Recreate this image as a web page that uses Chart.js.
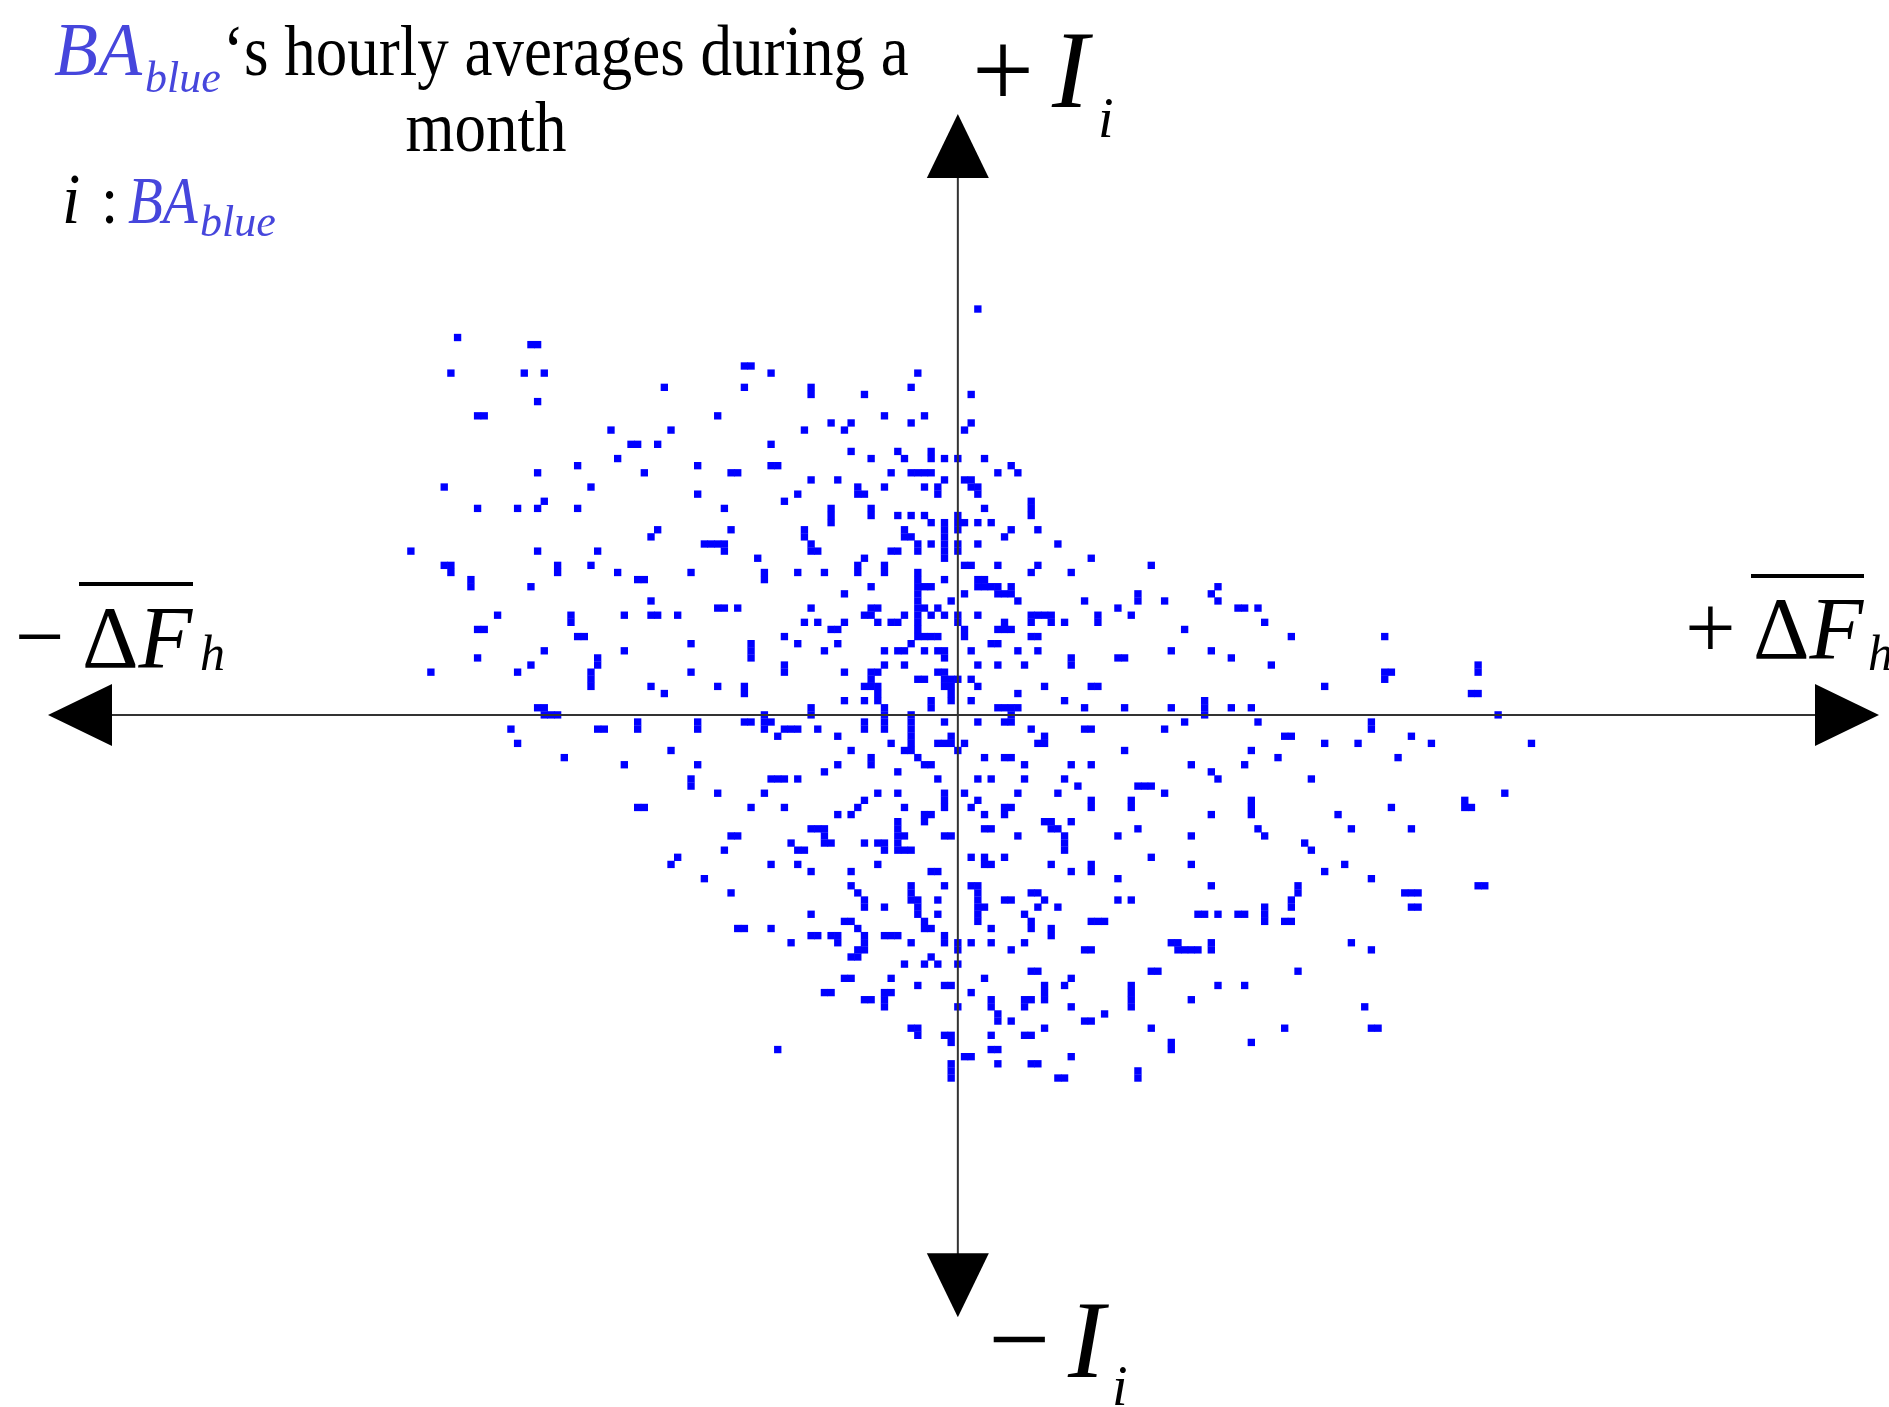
<!DOCTYPE html>
<html>
<head>
<meta charset="utf-8">
<script src="https://cdn.jsdelivr.net/npm/chart.js@4"></script>
<style>
  html, body { margin: 0; padding: 0; background: #ffffff; overflow: hidden; }
  #wrap { width: 1889px; height: 1407px; position: relative; }
</style>
</head>
<body>
<div id="wrap"><canvas id="c" width="1889" height="1407"></canvas></div>
<script>
// Hourly averages, in grid cells of (ΔF_h, I_i) relative to the origin.
const upperLeftCells = [
  [-75,53],[-64,52],[-63,52],[-76,48],[-65,48],[-62,48],[-32,49],[-31,49],[-28,48],
  [-44,46],[-32,46],[-63,44],[-72,42],[-71,42],[-36,42],[-52,40],[-43,40],
  [-49,38],[-48,38],[-45,38],[-28,38],[-51,36],[-57,35],[-63,34],[-47,34],[-39,35],[-34,34],[-33,34],[-28,35],[-27,35],
  [-77,32],[-55,32],[-39,31],[-62,30],[-72,29],[-66,29],[-63,29],[-57,29],[-35,29],
  [-45,26],[-46,25],[-34,26],[-82,23],[-63,23],[-54,23],[-38,24],[-37,24],[-36,24],[-35,24],[-35,23],[-30,22],
  [-77,21],[-76,21],[-76,20],[-60,21],[-60,20],[-55,21],[-51,20],[-48,19],[-47,19],[-40,20],[-29,20],[-29,19],
  [-73,19],[-73,18],[-64,18],[-46,16],
  [-69,14],[-58,14],[-58,13],[-50,14],[-46,14],[-45,14],[-42,14],[-36,15],[-35,15],[-33,15],
  [-72,12],[-71,12],[-57,11],[-56,11],[-62,9],[-50,9],[-40,10],[-31,10],[-31,9],[-31,8],
  [-72,8],[-79,6],[-66,6],[-64,7],[-54,8],[-54,7],[-55,6],[-55,5],[-55,4],[-40,6],
  [-46,4],[-44,3],[-36,4],[-32,4],[-32,3]
];
const upperMidCells = [
  [3,57],[-6,48],[-22,46],[-22,45],[-14,45],[-7,46],[2,45],
  [-11,42],[-5,42],[-19,41],[-16,41],[-23,40],[-17,40],[-7,41],[2,41],[1,40],
  [-16,37],[-13,36],[-9,37],[-8,36],[-4,37],[-4,36],[-2,36],[0,36],[4,36],
  [8,35],[9,34],[6,34],[-10,34],[-7,34],[-6,34],[-5,34],[-4,34],
  [-22,33],[-18,33],[-2,33],[1,33],[2,33],[2,32],[3,32],[3,31],
  [-24,31],[-26,30],[-15,32],[-15,31],[-14,31],[-11,32],[-5,32],[-3,32],[-3,31],
  [-19,29],[-19,28],[-19,27],[-13,29],[-13,28],[-9,28],[-7,28],[-5,28],[-4,27],
  [-2,27],[-2,26],[-2,25],[-2,24],[-2,23],[-2,22],
  [0,28],[0,27],[0,26],[1,27],[3,27],[5,27],[4,29],[11,30],[11,29],[11,28],
  [-23,26],[-23,25],[-8,26],[-8,25],[-7,25],[8,26],[7,25],[12,26],
  [-22,24],[-22,23],[-21,23],[-10,23],[-9,23],[-6,24],[-6,23],[-4,24],[0,24],[0,23],[3,24],[15,24],
  [-14,22],[-15,21],[-15,20],[-11,21],[-11,20],[-24,20],[-20,20],[1,21],[2,21],[6,21],[12,21],[11,20],[17,20],[20,22],[29,21],
  [-6,20],[-6,19],[-6,18],[-6,17],[-6,16],[-6,15],[-6,14],[-6,13],[-6,12],[-6,11],[-5,18],[-4,18],[-5,15],[-5,11],[-4,11],[-3,11],
  [-2,19],[-13,18],[-17,17],[1,17],
  [3,19],[4,19],[3,18],[4,18],[5,18],[6,18],[8,18],[6,17],[7,17],[8,17],[9,16],
  [-1,16],[-22,15],[-13,15],[-12,15],[-14,14],[-13,14],[-12,13],
  [-8,14],[-4,14],[-3,15],[-2,14],[0,14],[0,13],[3,14],
  [11,14],[12,14],[13,14],[14,14],[11,13],[14,13],[16,13],[21,14],[21,13],[19,16],[24,15],[26,14],[27,17],[27,16],
  [-23,13],[-21,13],[-17,13],[-19,12],[-18,12],[-10,13],[-9,13],
  [1,12],[1,11],[7,13],[6,12],[7,12],[8,12],[11,11],[12,11],[-26,11],
  [-24,10],[-18,10],[-20,9],[-11,9],[-9,9],[-8,9],[-7,10],[-5,9],[-3,9],[-2,9],[-2,8],[2,9],[5,10],[6,10],[9,9],[12,9],
  [-26,7],[-26,6],[-17,6],[-11,7],[-8,7],
  [-13,6],[-12,6],[-13,5],[-14,4],[-13,4],[-12,4],[-12,3],[-12,2],
  [-3,6],[-2,6],[-2,5],[-1,5],[0,5],[-2,4],[-1,4],[-1,3],[-1,2],[-6,5],[-5,5],
  [2,5],[3,4],[3,7],[6,7],[10,7],[17,8],[17,7],[24,8],[25,8],[13,4],[20,4],[21,4],[9,3],
  [-17,2],[-14,2],[-4,2],[2,2],[16,2]
];
const upperRightCells = [
  [39,18],[38,17],[39,16],[31,16],[42,15],[43,15],[45,15],[46,13],[34,12],[50,11],[64,11],
  [32,9],[38,9],[41,8],[47,7],[55,4],[64,6],[65,6],[64,5],[78,7],[78,6],[77,3],[78,3],[37,2]
];
const lowerLeftCells = [
  [-63,1],[-62,1],[-62,0],[-61,0],[-60,0],
  [-67,-2],[-66,-4],[-54,-2],[-53,-2],[-48,-1],[-48,-2],[-39,-1],[-39,-2],[-32,-1],[-31,-1],
  [-29,0],[-29,-1],[-29,-2],[-28,-1],[-27,-3],
  [-43,-5],[-59,-6],[-50,-7],[-39,-7],[-40,-9],[-40,-10],[-36,-11],[-29,-11],[-28,-9],[-27,-9],
  [-48,-13],[-47,-13],[-31,-13],[-34,-17],[-33,-17],[-35,-19],[-42,-20],[-43,-21],[-28,-21],
  [-38,-23],[-34,-25],[-33,-30],[-32,-30],[-28,-30],[-27,-47]
];
const lowerMidCells = [
  [-22,1],[-22,0],[-11,1],[-11,0],[-11,-1],[-11,-2],[-4,1],
  [6,1],[7,1],[8,1],[9,1],[8,0],[7,-1],[8,-1],[19,1],[25,1],
  [-26,-2],[-25,-2],[-24,-2],[-21,-2],[-14,-1],[-14,-2],
  [-7,0],[-7,-1],[-7,-2],[-7,-3],[-7,-4],[-7,-5],[-8,-5],
  [-2,-1],[3,-1],[-18,-3],[-10,-4],[-3,-4],[-2,-4],[-1,-4],[-1,-3],[0,-5],[1,-4],
  [11,-2],[13,-3],[12,-4],[13,-4],[19,-2],[20,-2],
  [-16,-5],[-13,-6],[-13,-7],[-18,-7],[-6,-6],[-5,-7],[-4,-7],[4,-6],[7,-6],[8,-6],[25,-5],[10,-7],[17,-7],[20,-7],
  [-26,-9],[-24,-9],[-20,-8],[-9,-8],[-3,-9],[3,-9],[5,-9],[10,-9],[16,-9],[18,-10],[27,-10],[28,-10],[29,-10],
  [-12,-11],[-9,-11],[-2,-11],[-2,-12],[-2,-13],[1,-11],[9,-11],[15,-11],
  [-14,-12],[-15,-13],[-26,-13],[-8,-13],[2,-13],[3,-12],[7,-13],[8,-13],[7,-14],[20,-12],[20,-13],[26,-12],[26,-13],
  [-18,-14],[-16,-14],[-5,-14],[-4,-14],[-5,-15],[4,-14],[17,-15],
  [13,-15],[14,-15],[14,-16],[15,-16],[16,-17],[16,-18],[16,-19],[27,-16],[4,-16],[5,-16],
  [-22,-16],[-21,-16],[-20,-16],[-20,-17],[-20,-18],[-19,-18],[-25,-18],[-24,-19],[-23,-19],[-24,-21],
  [-14,-18],[-12,-18],[-11,-18],[-11,-19],
  [-9,-15],[-9,-16],[-9,-17],[-9,-18],[-9,-19],[-8,-17],[-8,-19],[-7,-19],
  [-2,-17],[-1,-17],[9,-17],[24,-17],
  [2,-20],[4,-20],[4,-21],[5,-21],[7,-20],[29,-20],[14,-21],[20,-21],[20,-22],[17,-22],
  [-22,-22],[-16,-22],[-12,-21],[-4,-22],[-3,-22],[24,-23],
  [-16,-24],[-15,-25],[-14,-26],[-14,-27],[-22,-28],[-11,-27],
  [-7,-24],[-7,-25],[-7,-26],[-6,-26],[-6,-27],[-6,-28],[-2,-24],[-3,-26],[-3,-28],
  [-5,-29],[-5,-30],[-4,-30],
  [2,-24],[3,-24],[3,-25],[3,-26],[3,-27],[4,-27],[3,-28],[3,-29],
  [7,-26],[8,-26],[11,-25],[12,-25],[13,-26],[12,-27],[15,-27],[24,-26],[26,-26],[10,-28],[11,-29],[11,-30],[5,-30],[14,-30],[14,-31],[20,-29],[21,-29],[22,-29],
  [-17,-29],[-16,-29],[-15,-30],
  [-14,-31],[-14,-32],[-14,-33],[-15,-33],[-16,-34],[-15,-34],
  [-22,-31],[-21,-31],[-19,-31],[-18,-31],[-18,-32],[-25,-32],[-11,-31],[-10,-31],[-9,-31],[-7,-32],[-2,-31],[-2,-32],[0,-32],[0,-33],[2,-32],[5,-32],[8,-33],[10,-32],[19,-33],[20,-33],
  [-8,-35],[-5,-35],[-4,-34],[-3,-35],[0,-35],[11,-36],[12,-36],[29,-36],[30,-36],
  [-17,-37],[-16,-37],[-10,-37],[-6,-38],[-2,-38],[-1,-38],[4,-37],[17,-37],[16,-38],
  [13,-38],[13,-39],[13,-40],[26,-38],[26,-39],[26,-40],[26,-41],
  [-20,-39],[-19,-39],[2,-39],[-14,-40],[-13,-40],[-11,-39],[-10,-39],[-11,-40],[-11,-41],
  [0,-41],[5,-40],[5,-41],[6,-42],[6,-43],[10,-40],[11,-40],[10,-41],[17,-41],[8,-43],[19,-43],[20,-43],[22,-42],
  [-7,-44],[-6,-44],[-6,-45],[-2,-45],[-1,-45],[-1,-46],[5,-45],[10,-45],[11,-45],[13,-44],[29,-44],
  [5,-47],[6,-47],[1,-48],[2,-48],[17,-48],[6,-49],[11,-49],[12,-49],[-1,-49],[-1,-50],[-1,-51],[15,-51],[16,-51],[27,-50],[27,-51]
];
const lowerRightCells = [
  [32,1],[37,1],[37,0],[41,1],[44,1],[34,-1],[31,-2],[45,-1],[62,-1],[62,-2],[81,0],
  [49,-3],[50,-3],[55,-4],[60,-4],[68,-3],[71,-4],[86,-4],[44,-5],[48,-6],[66,-6],[35,-7],[43,-7],[38,-8],[39,-9],[53,-9],
  [31,-11],[82,-11],[38,-14],[44,-12],[44,-13],[44,-14],[57,-14],[65,-13],[76,-12],[76,-13],[77,-13],
  [35,-17],[45,-16],[46,-17],[59,-16],[68,-16],[52,-18],[53,-19],[35,-21],[55,-22],[58,-21],[62,-23],
  [38,-24],[51,-24],[51,-25],[67,-25],[68,-25],[69,-25],[78,-24],[79,-24],[50,-26],[50,-27],
  [36,-28],[37,-28],[39,-28],[42,-28],[43,-28],[46,-27],[46,-28],[46,-29],[49,-29],[50,-29],[68,-27],[69,-27],
  [32,-32],[33,-32],[33,-33],[34,-33],[35,-33],[36,-33],[38,-32],[38,-33],[59,-32],[62,-33],
  [51,-36],[39,-38],[43,-38],[35,-40],[61,-41],[49,-44],[62,-44],[63,-44],[32,-46],[32,-47],[44,-46]
];

// Scale bounds (cells) and the extent of the drawn axes (arrow tips, in cells)
const X_RANGE = [-143.6, 139.6];
const Y_RANGE = [-97.2, 100.4];
const AXIS_X_ENDS = [-136.4, 138.1];
const AXIS_Y_ENDS = [-84.6, 84.4];

const allCells = [].concat(upperLeftCells, upperMidCells, upperRightCells,
                           lowerLeftCells, lowerMidCells, lowerRightCells);

const SERIF = '"Liberation Serif", "Times New Roman", serif';
const LABEL_BLUE = '#4646dc';

function run(ctx, text, x, y, size, opt) {
  opt = opt || {};
  ctx.save();
  ctx.translate(x, y);
  ctx.scale(1, opt.sy || 1);
  ctx.font = (opt.italic ? 'italic ' : '') + size + 'px ' + SERIF;
  ctx.fillStyle = opt.color || '#000';
  ctx.textBaseline = 'alphabetic';
  ctx.textAlign = opt.align || 'left';
  ctx.fillText(text, 0, 0);
  const w = ctx.measureText(text).width;
  ctx.restore();
  return x + w;
}

const crossAxes = {
  id: 'crossAxes',
  afterDatasetsDraw(chart) {
    const ctx = chart.ctx, xs = chart.scales.x, ys = chart.scales.y;
    const ox = xs.getPixelForValue(0), oy = ys.getPixelForValue(0);
    const left = xs.getPixelForValue(AXIS_X_ENDS[0]);
    const right = xs.getPixelForValue(AXIS_X_ENDS[1]);
    const top = ys.getPixelForValue(AXIS_Y_ENDS[1]);
    const bottom = ys.getPixelForValue(AXIS_Y_ENDS[0]);
    const L = 64, W = 31;
    ctx.save();
    ctx.strokeStyle = '#333333';
    ctx.lineWidth = 2;
    ctx.beginPath();
    ctx.moveTo(left + L - 2, oy); ctx.lineTo(right - L + 2, oy);
    ctx.moveTo(ox, top + L - 2); ctx.lineTo(ox, bottom - L + 2);
    ctx.stroke();
    ctx.fillStyle = '#000000';
    const tri = (a, b, c, d, e, f) => {
      ctx.beginPath(); ctx.moveTo(a, b); ctx.lineTo(c, d); ctx.lineTo(e, f); ctx.closePath(); ctx.fill();
    };
    tri(left, oy, left + L, oy - W, left + L, oy + W);
    tri(right, oy, right - L, oy - W, right - L, oy + W);
    tri(ox, top, ox - W, top + L, ox + W, top + L);
    tri(ox, bottom, ox - W, bottom - L, ox + W, bottom - L);
    ctx.restore();
  },
  afterDraw(chart) {
    const ctx = chart.ctx;
    // Title
    run(ctx, 'BA', 54, 75, 72, {italic: true, color: LABEL_BLUE, sy: 1.06});
    run(ctx, 'blue', 145, 92, 44, {italic: true, color: LABEL_BLUE});
    run(ctx, '\u2018s hourly averages during a', 223, 75, 63, {sy: 1.14});
    run(ctx, 'month', 486, 151, 63, {sy: 1.14, align: 'center'});
    // i : BA_blue
    run(ctx, 'i', 62, 223, 66, {italic: true, sy: 1.1});
    run(ctx, ':', 101, 223, 62, {sy: 1.1});
    run(ctx, 'BA', 128, 223, 57, {italic: true, color: LABEL_BLUE, sy: 1.2});
    run(ctx, 'blue', 200, 236, 44, {italic: true, color: LABEL_BLUE});
    // + I_i (top)
    run(ctx, '+', 972, 107, 110);
    run(ctx, 'I', 1052, 107, 110, {italic: true});
    run(ctx, 'i', 1098, 137, 56, {italic: true});
    // − I_i (bottom)
    run(ctx, '\u2212', 988, 1376, 110);
    run(ctx, 'I', 1068, 1377, 110, {italic: true});
    run(ctx, 'i', 1112, 1405, 56, {italic: true});
    // + ΔF_h (right)
    run(ctx, '+', 1685, 658, 90);
    let e = run(ctx, '\u0394', 1753, 658, 88);
    run(ctx, 'F', e, 658, 88, {italic: true});
    run(ctx, 'h', 1868, 670, 50, {italic: true});
    ctx.fillStyle = '#000';
    ctx.fillRect(1751, 574, 113, 4);
    // − ΔF_h (left)
    run(ctx, '\u2212', 15, 666, 88);
    e = run(ctx, '\u0394', 82, 667, 88);
    run(ctx, 'F', e, 667, 88, {italic: true});
    run(ctx, 'h', 200, 670, 50, {italic: true});
    ctx.fillRect(79, 582, 114, 4);
  }
};

new Chart(document.getElementById('c'), {
  type: 'scatter',
  data: {
    datasets: [{
      label: 'BA blue hourly averages',
      data: allCells.map(p => ({x: p[0], y: p[1]})),
      pointStyle: 'rect',
      pointRadius: 5.2,
      pointHoverRadius: 5.2,
      pointBackgroundColor: '#0000ff',
      pointBorderWidth: 0,
      showLine: false
    }]
  },
  options: {
    responsive: false,
    animation: false,
    events: [],
    layout: {padding: 0, autoPadding: false},
    plugins: {legend: {display: false}, tooltip: {enabled: false}, title: {display: false}},
    scales: {
      x: {type: 'linear', min: X_RANGE[0], max: X_RANGE[1], display: false, grid: {display: false}},
      y: {type: 'linear', min: Y_RANGE[0], max: Y_RANGE[1], display: false, grid: {display: false}}
    }
  },
  plugins: [crossAxes]
});
</script>
</body>
</html>
